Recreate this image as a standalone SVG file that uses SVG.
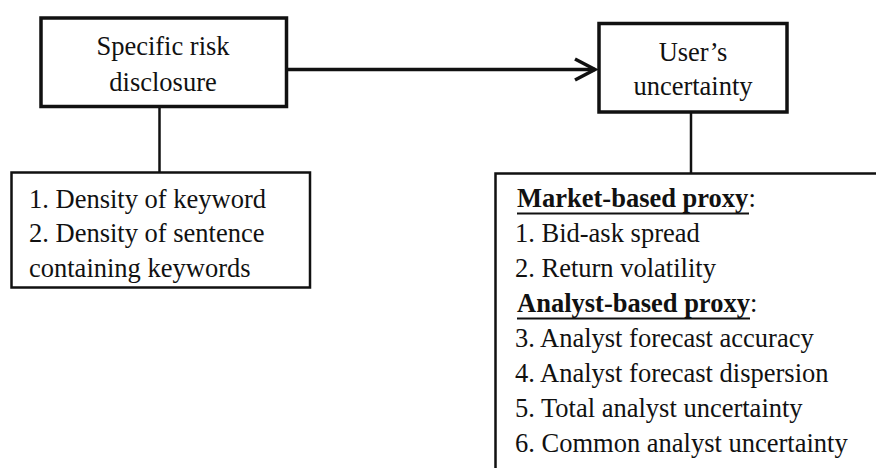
<svg xmlns="http://www.w3.org/2000/svg" width="876" height="468" viewBox="0 0 876 468">
  <defs>
    <style>
      .bg { fill: #ffffff; }
      .main { fill: #ffffff; stroke: #111111; stroke-width: 3.5; }
      .sub { fill: #ffffff; stroke: #111111; stroke-width: 2.5; }
      .link { fill: none; stroke: #111111; stroke-width: 2.5; }
      .flow { fill: none; stroke: #111111; stroke-width: 3.5; }
      .rule { stroke: #111111; stroke-width: 2; }
      text { font-family: "Liberation Serif", "Times New Roman", serif; font-size: 26.5px; fill: #111111; }
      .mid { text-anchor: middle; }
      .head { font-weight: bold; }
    </style>
    <marker id="open-arrow" markerUnits="userSpaceOnUse" markerWidth="30" markerHeight="30" viewBox="-24 -15 30 30" refX="0" refY="0" orient="auto">
      <path d="M -20 -10.5 L 0 0 L -20 10.5" fill="none" stroke="#111111" stroke-width="3.5" stroke-linejoin="miter"/>
    </marker>
  </defs>

  <rect class="bg" x="0" y="0" width="876" height="468"/>

  <!-- connectors -->
  <g id="connectors">
    <line class="flow" x1="288" y1="69.5" x2="595" y2="69.5" marker-end="url(#open-arrow)"/>
    <line class="link" x1="159.5" y1="107" x2="159.5" y2="172"/>
    <line class="link" x1="691" y1="113" x2="691" y2="173"/>
  </g>

  <!-- cause -->
  <g id="specific-risk-disclosure">
    <rect class="main" x="41" y="18" width="245.5" height="88.5"/>
    <text class="mid" x="163" y="55">Specific risk</text>
    <text class="mid" x="163" y="91">disclosure</text>
  </g>

  <!-- effect -->
  <g id="users-uncertainty">
    <rect class="main" x="599" y="23.5" width="188" height="88.5"/>
    <text class="mid" x="693" y="61">User’s</text>
    <text class="mid" x="693" y="95">uncertainty</text>
  </g>

  <!-- disclosure measures -->
  <g id="disclosure-measures">
    <rect class="sub" x="11.5" y="172.5" width="298.5" height="115"/>
    <text x="29" y="208">1. Density of keyword</text>
    <text x="29" y="242">2. Density of sentence</text>
    <text x="29" y="277">containing keywords</text>
  </g>

  <!-- uncertainty proxies -->
  <g id="uncertainty-proxies">
    <rect class="sub" x="495.5" y="173.5" width="420" height="330"/>
    <text x="517" y="207"><tspan class="head">Market-based proxy</tspan>:</text>
    <line class="rule" x1="517" y1="213.5" x2="749" y2="213.5"/>
    <text x="515" y="242">1. Bid-ask spread</text>
    <text x="515" y="277">2. Return volatility</text>
    <text x="517" y="312"><tspan class="head">Analyst-based proxy</tspan>:</text>
    <line class="rule" x1="517" y1="318.5" x2="750" y2="318.5"/>
    <text x="515" y="347">3. Analyst forecast accuracy</text>
    <text x="515" y="382">4. Analyst forecast dispersion</text>
    <text x="515" y="417">5. Total analyst uncertainty</text>
    <text x="515" y="452">6. Common analyst uncertainty</text>
  </g>
</svg>
